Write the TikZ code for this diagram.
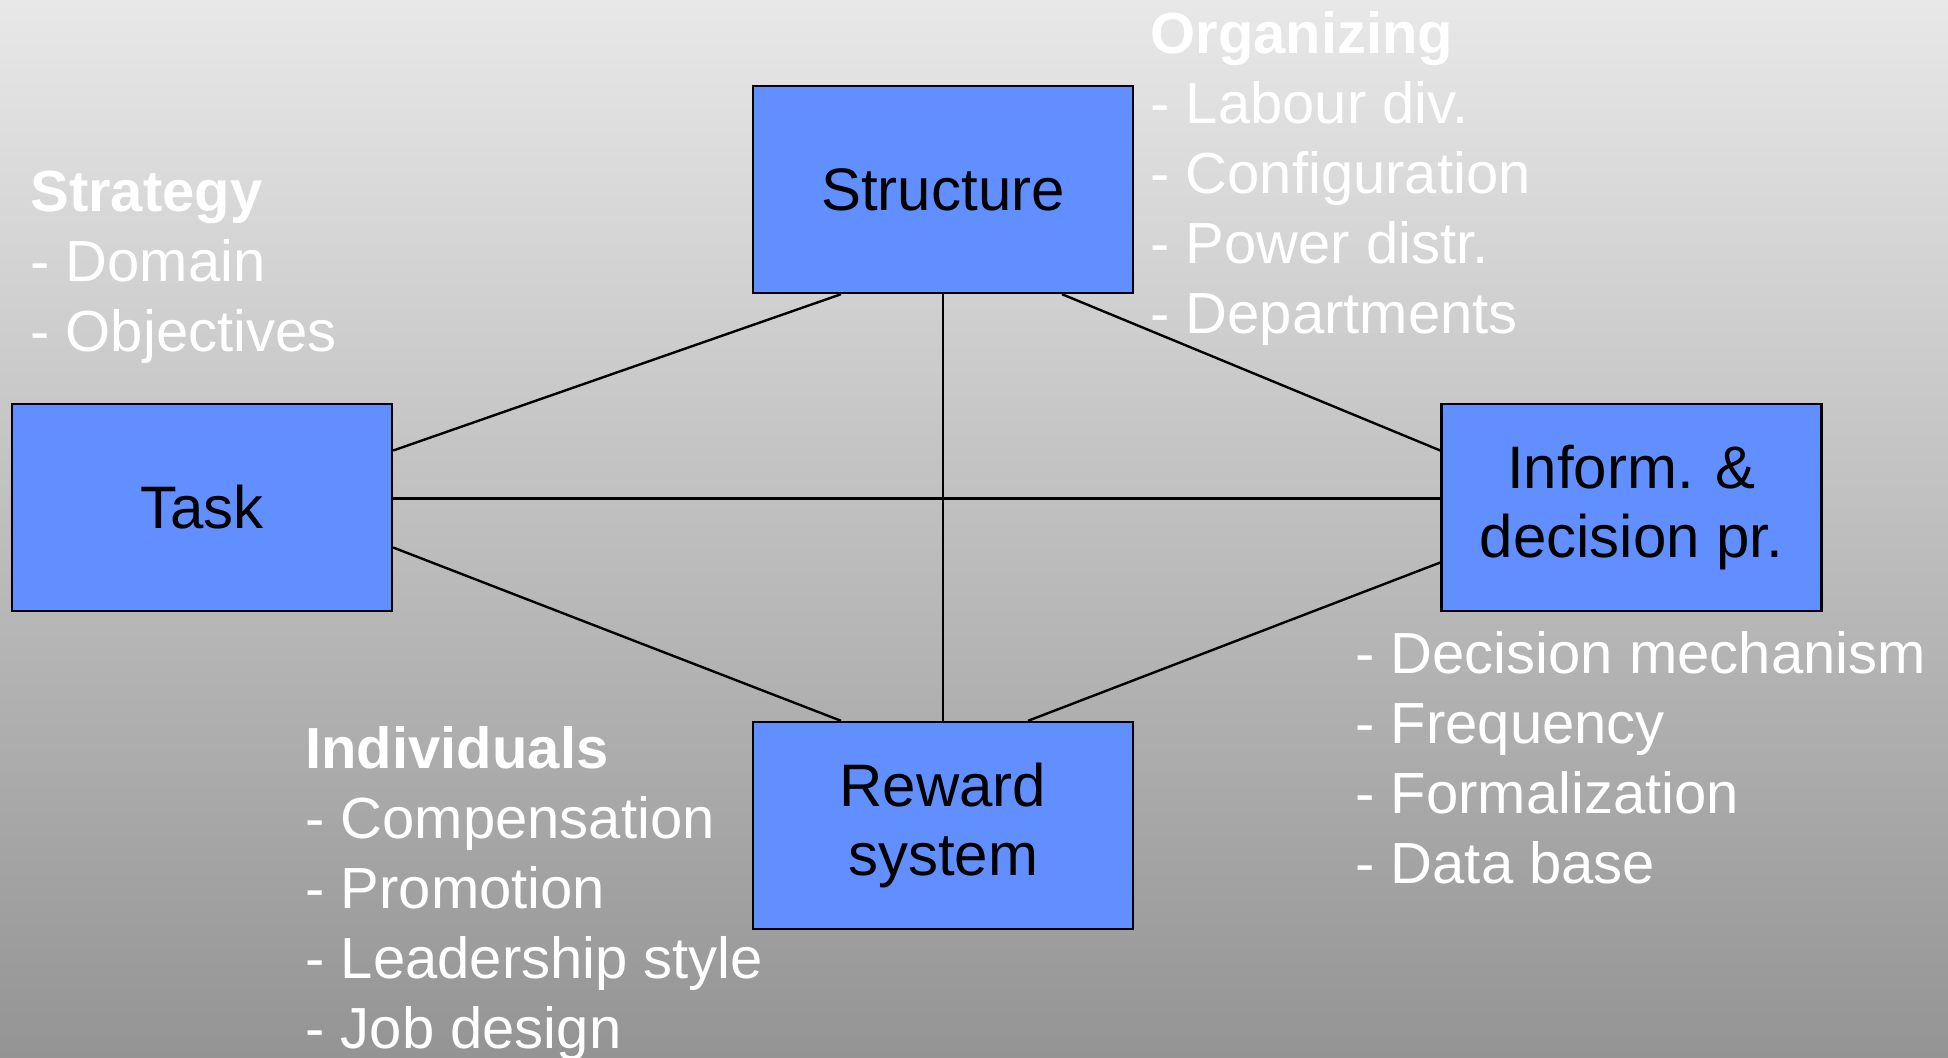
\documentclass[tikz,border=0pt]{standalone}
\usepackage{fontspec}
\setmainfont{Liberation Sans}
\usetikzlibrary{calc}
\definecolor{boxblue}{HTML}{628FFF}
\begin{document}
\begin{tikzpicture}[x=0.5pt, y=-0.5pt]
        \tikzstyle{box-node}=[draw=black, line width=1.2pt, fill=boxblue, minimum width=190pt, minimum height=103.5pt, align=center, inner sep=0pt, font=\fontsize{30}{34.5}\selectfont]
        \tikzstyle{note-node}=[anchor=base west, align=left, inner sep=0pt, text=white, font=\fontsize{29}{35}\selectfont]
        \tikzstyle{link}=[line width=1.2pt, black]
        % background
        \shade[top color=black!9, bottom color=black!42] (0, 0) rectangle (1948, 1057);
        \useasboundingbox (0, 0) rectangle (1948, 1057);

        \node[box-node] (structure) at (943, 189.5) {Structure};
        \node[box-node] (task) at (202, 507.5) {Task};
        \node[box-node] (inform) at (1631.5, 507.5) {Inform. \&\\decision pr.};
        \node[box-node] (reward) at (943, 825.5) {Reward\\system};

        \draw[link] ($(task.east)+(0,-57)$) -- ($(structure.south)+(-102,0)$);
        \draw[link] ($(task.east)+(0,-9)$) -- ($(inform.west)+(0,-9)$);
        \draw[link] ($(task.east)+(0,40)$) -- ($(reward.north)+(-102,0)$);
        \draw[link] (structure.south) -- (reward.north);
        \draw[link] ($(structure.south)+(119,0)$) -- ($(inform.west)+(0,-57)$);
        \draw[link] ($(inform.west)+(0,55)$) -- ($(reward.north)+(85,0)$);

        % notes, placed by the baseline of their last line
        \node[note-node] (strategy) at (30, 351) {\textbf{Strategy}\\- Domain\\- Objectives};
        \node[note-node] (organizing) at (1150, 333) {\textbf{Organizing}\\- Labour div.\\- Configuration\\- Power distr.\\- Departments};
        \node[note-node] (decision) at (1355, 883) {- Decision mechanism\\- Frequency\\- Formalization\\- Data base};
        \node[note-node] (individuals) at (305, 1048) {\textbf{Individuals}\\- Compensation\\- Promotion\\- Leadership style\\- Job design};
    \end{tikzpicture}
\end{document}
